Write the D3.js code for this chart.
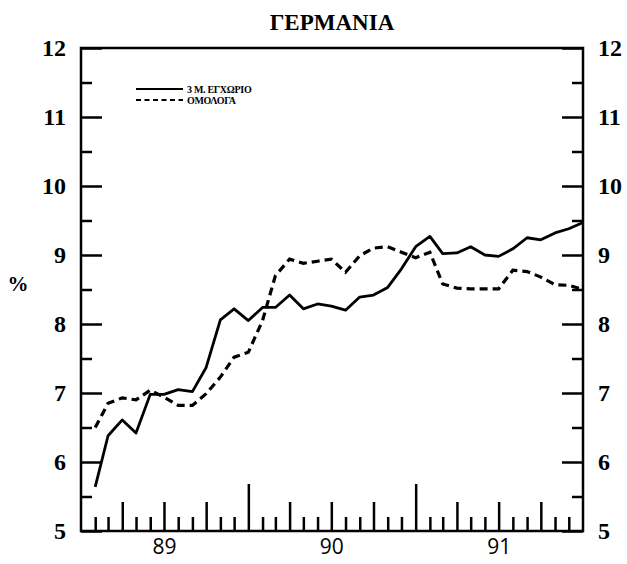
<!DOCTYPE html>
<html>
<head>
<meta charset="utf-8">
<script src="https://cdn.jsdelivr.net/npm/d3@7"></script>
<style>
  body { margin: 0; background: #fff; }
</style>
</head>
<body>
<svg id="chart" width="627" height="564"></svg>
<script>
var title = 'ΓΕΡΜΑΝΙΑ'
var seriesNames = ['3 Μ. ΕΓΧΩΡΙΟ', 'ΟΜΟΛΟΓΑ']
var yearLabels = ['89', '90', '91']
var yTicks = [5, 6, 7, 8, 9, 10, 11, 12]

// monthly values, Jan 1989 .. Dec 1991 (end of month)
var rate3m = [5.64, 6.38, 6.61, 6.42, 6.98, 6.98, 7.05, 7.02, 7.37, 8.06, 8.22, 8.05,
              8.24, 8.24, 8.42, 8.22, 8.29, 8.26, 8.20, 8.39, 8.42, 8.53, 8.80, 9.12,
              9.27, 9.02, 9.03, 9.12, 9.00, 8.98, 9.09, 9.25, 9.22, 9.32, 9.38, 9.47]
var bonds = [6.50, 6.85, 6.93, 6.90, 7.04, 6.94, 6.82, 6.82, 6.99, 7.23, 7.52, 7.59,
             8.05, 8.70, 8.94, 8.88, 8.91, 8.94, 8.75, 8.99, 9.10, 9.12, 9.04, 8.96,
             9.04, 8.58, 8.52, 8.51, 8.51, 8.51, 8.78, 8.76, 8.68, 8.57, 8.56, 8.50]

var SERIF = '"Liberation Serif", serif'

var margin = { top: 48, right: 44, bottom: 33, left: 81 }
var width = 627 - margin.left - margin.right
var height = 564 - margin.top - margin.bottom

var start = new Date(1989, 0, 1)
var end = new Date(1992, 0, 1)
var months = d3.timeMonth.range(start, end)

var x = d3.scaleTime().domain([start, end]).range([0, width])
var y = d3.scaleLinear().domain([5, 12]).range([height, 0])

var svg = d3.select('#chart')
var g = svg.append('g')
  .attr('transform', 'translate(' + margin.left + ',' + margin.top + ')')

// title
svg.append('text')
  .attr('x', margin.left + width / 2)
  .attr('y', 30)
  .attr('text-anchor', 'middle')
  .attr('font-family', SERIF)
  .attr('font-weight', 'bold')
  .attr('font-size', '23px')
  .text(title)

// percent label
svg.append('text')
  .attr('x', 18)
  .attr('y', 291)
  .attr('text-anchor', 'middle')
  .attr('font-family', SERIF)
  .attr('font-weight', 'bold')
  .attr('font-size', '21px')
  .text('%')

const styleAxis = (sel, fontSize) => {
  sel.attr('font-family', SERIF)
  sel.select('.domain').remove()
  sel.selectAll('line').attr('stroke', '#000').attr('stroke-width', 2.5)
  sel.selectAll('text')
    .attr('font-family', SERIF)
    .attr('font-weight', 'bold')
    .attr('font-size', fontSize)
    .attr('fill', '#000')
}

// y axes (ticks point inward)
var halfTicks = yTicks.slice(0, -1).map(v => v + 0.5)

g.append('g')
  .call(d3.axisLeft(y).tickValues(yTicks).tickSize(-21).tickPadding(15).tickFormat(d3.format('d')))
  .call(styleAxis, '24px')
g.append('g')
  .call(d3.axisLeft(y).tickValues(halfTicks).tickSize(-11).tickFormat(''))
  .call(styleAxis, '24px')

g.append('g')
  .attr('transform', 'translate(' + width + ',0)')
  .call(d3.axisRight(y).tickValues(yTicks).tickSize(-21).tickPadding(15).tickFormat(d3.format('d')))
  .call(styleAxis, '24px')
g.append('g')
  .attr('transform', 'translate(' + width + ',0)')
  .call(d3.axisRight(y).tickValues(halfTicks).tickSize(-11).tickFormat(''))
  .call(styleAxis, '24px')

// x axis: month ticks, taller at quarters, tallest at year start
var innerMonths = months.slice(1)
var yearTicks = innerMonths.filter(d => d.getMonth() === 0)
var quarterTicks = innerMonths.filter(d => d.getMonth() !== 0 && d.getMonth() % 3 === 0)
var monthTicks = innerMonths.filter(d => d.getMonth() % 3 !== 0)

var xAxisG = g.append('g').attr('transform', 'translate(0,' + height + ')')
xAxisG.append('g')
  .call(d3.axisBottom(x).tickValues(monthTicks).tickSize(-14).tickFormat(''))
  .call(styleAxis, '22px')
xAxisG.append('g')
  .call(d3.axisBottom(x).tickValues(quarterTicks).tickSize(-29).tickFormat(''))
  .call(styleAxis, '22px')
xAxisG.append('g')
  .call(d3.axisBottom(x).tickValues(yearTicks).tickSize(-47).tickFormat(''))
  .call(styleAxis, '22px')

var midYears = yearLabels.map((lab, i) => new Date(1989 + i, 6, 1))
xAxisG.append('g')
  .call(d3.axisBottom(x).tickValues(midYears).tickSize(0).tickPadding(8)
    .tickFormat((d, i) => yearLabels[i]))
  .call(styleAxis, '23px')
  .selectAll('text')
  .attr('font-family', '"Open Sans", sans-serif')
  .attr('font-weight', 'normal')
  .attr('font-size', '21px')

// frame
g.append('rect')
  .attr('width', width)
  .attr('height', height)
  .attr('fill', 'none')
  .attr('stroke', '#000')
  .attr('stroke-width', 2.5)

// lines, plotted at end of each month
var line = d3.line()
  .x((d, i) => x(d3.timeMonth.offset(months[i], 1)))
  .y(d => y(d))

g.append('path')
  .datum(bonds)
  .attr('d', line)
  .attr('fill', 'none')
  .attr('stroke', '#000')
  .attr('stroke-width', 3.2)
  .attr('stroke-dasharray', '8,5')

g.append('path')
  .datum(rate3m)
  .attr('d', line)
  .attr('fill', 'none')
  .attr('stroke', '#000')
  .attr('stroke-width', 2.8)
  .attr('stroke-linejoin', 'round')

// legend
var legend = svg.append('g')
var legendRows = [{ name: seriesNames[0], dash: null, y: 89 }, { name: seriesNames[1], dash: '5,3.5', y: 100 }]
legendRows.forEach(r => {
  legend.append('line')
    .attr('x1', 136).attr('x2', 183)
    .attr('y1', r.y).attr('y2', r.y)
    .attr('stroke', '#000')
    .attr('stroke-width', 2.2)
    .attr('stroke-dasharray', r.dash)
  legend.append('text')
    .attr('x', 187)
    .attr('y', r.y + 3.5)
    .attr('font-family', SERIF)
    .attr('font-weight', 'bold')
    .attr('font-size', '10px')
    .attr('letter-spacing', '-0.3px')
    .text(r.name)
})
</script>
</body>
</html>
